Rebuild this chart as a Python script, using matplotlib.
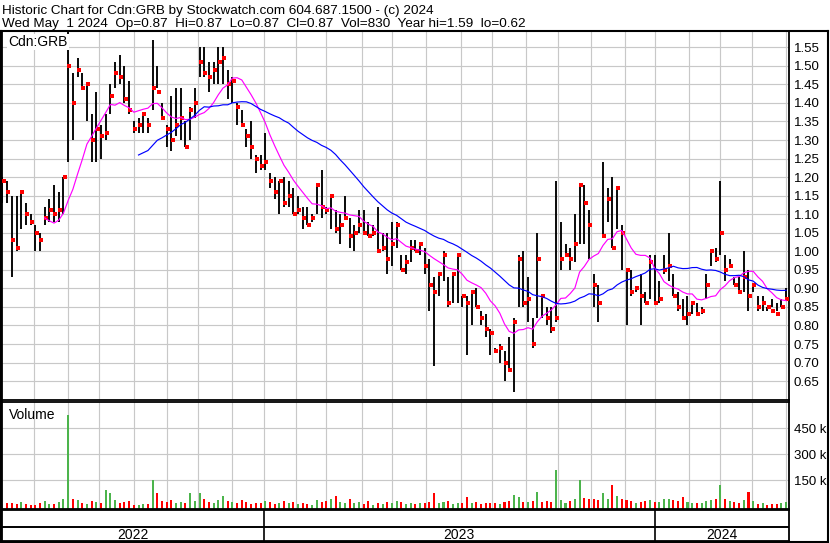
import numpy as np
import pandas as pd
import matplotlib
matplotlib.use("Agg")
import matplotlib.pyplot as plt

plt.rcParams['font.family'] = ['Liberation Sans', 'DejaVu Sans']

# ---------------- text ----------------
title_line = "Historic Chart for Cdn:GRB by Stockwatch.com 604.687.1500 - (c) 2024"
info_line = "Wed May  1 2024  Op=0.87  Hi=0.87  Lo=0.87  Cl=0.87  Vol=830  Year hi=1.59  lo=0.62"
symbol = "Cdn:GRB"
volume_title = "Volume"

# ---------------- calendar ----------------
end_date = "2024-05-01"
n_days = 502          # trading days shown
bar_step = 3          # one bar per 3 trading days
holidays = ["2022-05-23", "2022-07-01", "2022-08-01", "2022-09-05", "2022-10-10",
            "2022-12-26", "2022-12-27", "2023-01-02", "2023-02-20", "2023-04-07",
            "2023-05-22", "2023-07-03", "2023-08-07", "2023-09-04", "2023-10-09",
            "2023-12-25", "2023-12-26", "2024-01-01", "2024-02-19", "2024-03-29"]

# ---------------- data ----------------
high = [1.20, 1.19, 1.15, 1.15, 1.16, 1.13, 1.10, 1.07, 1.05, 1.12,
        1.14, 1.18, 1.16, 1.20, 1.59, 1.48, 1.52, 1.48, 1.45, 1.37,
        1.43, 1.34, 1.37, 1.45, 1.51, 1.53, 1.50, 1.46, 1.35, 1.36,
        1.37, 1.36, 1.57, 1.50, 1.40, 1.34, 1.42, 1.44, 1.44, 1.35,
        1.39, 1.44, 1.55, 1.55, 1.51, 1.51, 1.55, 1.55, 1.49, 1.47,
        1.40, 1.38, 1.33, 1.35, 1.26, 1.26, 1.32, 1.21, 1.20, 1.19,
        1.20, 1.19, 1.17, 1.15, 1.12, 1.12, 1.10, 1.18, 1.22, 1.12,
        1.15, 1.11, 1.10, 1.15, 1.09, 1.07, 1.11, 1.11, 1.08, 1.07,
        1.12, 1.05, 1.05, 1.08, 1.08, 0.99, 0.99, 1.03, 1.03, 1.02,
        1.01, 0.98, 0.93, 0.94, 1.00, 0.93, 0.94, 0.99, 0.88, 0.88,
        0.89, 0.90, 0.84, 0.83, 0.79, 0.74, 0.75, 0.73, 0.77, 0.82,
        0.99, 1.00, 0.93, 0.82, 1.05, 0.88, 0.85, 0.85, 1.19, 1.08,
        1.02, 1.01, 1.10, 1.18, 1.18, 1.11, 0.94, 0.91, 1.24, 1.17,
        1.20, 1.17, 1.07, 0.95, 0.95, 0.90, 0.94, 0.89, 0.99, 0.99,
        0.92, 0.99, 1.05, 0.94, 0.89, 0.87, 0.88, 0.86, 0.86, 0.85,
        0.94, 1.00, 1.01, 1.19, 0.99, 0.98, 0.93, 0.93, 1.00, 0.95,
        0.91, 0.88, 0.88, 0.85, 0.87, 0.86, 0.87, 0.90]

low = [1.13, 1.13, 0.93, 1.00, 1.06, 1.07, 1.07, 1.00, 1.00, 1.07,
       1.08, 1.08, 1.08, 1.10, 1.24, 1.30, 1.47, 1.44, 1.35, 1.24,
       1.24, 1.25, 1.30, 1.37, 1.44, 1.45, 1.40, 1.37, 1.32, 1.32,
       1.32, 1.32, 1.38, 1.44, 1.36, 1.28, 1.27, 1.31, 1.30, 1.28,
       1.30, 1.36, 1.47, 1.47, 1.43, 1.45, 1.45, 1.45, 1.41, 1.40,
       1.34, 1.34, 1.28, 1.25, 1.21, 1.22, 1.22, 1.17, 1.14, 1.10,
       1.12, 1.12, 1.10, 1.10, 1.06, 1.07, 1.08, 1.10, 1.09, 1.10,
       1.06, 1.05, 1.02, 1.09, 1.01, 1.00, 1.05, 1.05, 1.04, 1.04,
       1.00, 1.00, 0.94, 0.96, 1.01, 0.95, 0.94, 0.97, 1.00, 0.99,
       0.94, 0.84, 0.69, 0.88, 0.92, 0.85, 0.86, 0.86, 0.85, 0.72,
       0.80, 0.85, 0.80, 0.77, 0.72, 0.73, 0.70, 0.65, 0.68, 0.62,
       0.85, 0.85, 0.81, 0.74, 0.82, 0.82, 0.80, 0.78, 0.81, 0.95,
       0.99, 0.95, 0.97, 1.02, 1.02, 0.98, 0.85, 0.81, 1.04, 1.08,
       1.01, 1.06, 0.95, 0.80, 0.88, 0.89, 0.80, 0.86, 0.87, 0.86,
       0.86, 0.94, 0.92, 0.88, 0.84, 0.82, 0.80, 0.83, 0.83, 0.83,
       0.87, 0.96, 0.97, 0.99, 0.92, 0.96, 0.91, 0.89, 0.89, 0.84,
       0.89, 0.84, 0.84, 0.84, 0.85, 0.84, 0.85, 0.87]

close = [1.19, 1.16, 1.03, 1.01, 1.16, 1.10, 1.08, 1.05, 1.03, 1.09,
         1.11, 1.10, 1.11, 1.20, 1.50, 1.40, 1.49, 1.44, 1.45, 1.30,
         1.33, 1.31, 1.32, 1.42, 1.48, 1.47, 1.41, 1.38, 1.33, 1.34,
         1.37, 1.34, 1.44, 1.43, 1.36, 1.33, 1.30, 1.34, 1.36, 1.28,
         1.38, 1.40, 1.51, 1.48, 1.47, 1.49, 1.51, 1.52, 1.45, 1.46,
         1.39, 1.34, 1.31, 1.28, 1.25, 1.23, 1.24, 1.19, 1.16, 1.19,
         1.13, 1.15, 1.10, 1.11, 1.09, 1.07, 1.09, 1.18, 1.12, 1.11,
         1.15, 1.06, 1.07, 1.09, 1.04, 1.05, 1.07, 1.05, 1.04, 1.05,
         1.00, 1.01, 0.98, 1.02, 1.07, 0.95, 0.97, 1.01, 1.00, 1.02,
         0.96, 0.91, 0.89, 0.94, 0.99, 0.86, 0.94, 0.99, 0.88, 0.86,
         0.89, 0.85, 0.82, 0.79, 0.78, 0.73, 0.74, 0.70, 0.68, 0.81,
         0.98, 0.86, 0.87, 0.75, 0.98, 0.88, 0.82, 0.79, 0.82, 0.98,
         0.99, 0.98, 1.02, 1.18, 1.13, 1.07, 0.91, 0.86, 1.04, 1.14,
         1.01, 1.17, 1.05, 0.95, 0.89, 0.90, 0.88, 0.86, 0.97, 0.86,
         0.87, 0.95, 0.96, 0.88, 0.85, 0.82, 0.83, 0.86, 0.83, 0.84,
         0.91, 1.00, 0.98, 1.05, 0.95, 0.96, 0.91, 0.89, 0.93, 0.88,
         0.91, 0.85, 0.86, 0.85, 0.84, 0.83, 0.85, 0.87]

volume_k = [12, 18, 22, 15, 25, 14, 10, 8, 20, 30,
            12, 15, 28, 40, 525, 45, 38, 20, 15, 30,
            25, 18, 94, 75, 35, 20, 25, 30, 8, 10,
            12, 15, 150, 75, 30, 25, 35, 20, 28, 18,
            75, 30, 75, 40, 25, 20, 35, 60, 30, 25,
            20, 35, 28, 15, 22, 18, 30, 25, 15, 20,
            30, 18, 25, 12, 20, 15, 10, 35, 28, 30,
            45, 60, 25, 20, 40, 22, 25, 15, 30, 10,
            20, 15, 25, 18, 30, 25, 15, 20, 12, 18,
            22, 28, 75, 20, 25, 30, 15, 22, 18, 56,
            20, 25, 15, 22, 20, 18, 12, 25, 30, 65,
            55, 28, 25, 30, 85, 25, 30, 28, 210, 35,
            20, 30, 45, 155, 50, 40, 45, 35, 75, 40,
            123, 60, 40, 35, 30, 22, 28, 30, 35, 25,
            25, 40, 45, 35, 30, 56, 25, 20, 22, 18,
            30, 35, 40, 123, 45, 30, 25, 20, 35, 85,
            30, 15, 18, 10, 12, 15, 20, 25]

price_ticks = [0.65, 0.70, 0.75, 0.80, 0.85, 0.90, 0.95, 1.00, 1.05, 1.10,
               1.15, 1.20, 1.25, 1.30, 1.35, 1.40, 1.45, 1.50, 1.55]
volume_ticks_k = [150, 300, 450]

ma_short = 10   # samples (30 trading days)
ma_long = 30    # samples (90 trading days)

# ---------------- derived ----------------
cbd = pd.offsets.CustomBusinessDay(holidays=holidays)
dates = pd.date_range(end=end_date, periods=n_days, freq=cbd)
day_idx = np.arange(n_days)
xs = day_idx[::bar_step][:len(close)]

months = dates.to_period("M")
month_starts = [i for i in range(1, n_days) if months[i] != months[i - 1]]
years_p = dates.year
year_starts = [i for i in range(1, n_days) if years_p[i] != years_p[i - 1]]
year_names = sorted(set(str(y) for y in years_p))

cs = pd.Series(close)
ma1 = cs.rolling(ma_short).mean()
ma2 = cs.rolling(ma_long).mean()

chg = cs.diff().fillna(0).values
vcolors = ['#4cb44c' if c > 1e-9 else ('#ff0000' if c < -1e-9 else '#a8a8a8') for c in chg]

# ---------------- layout ----------------
W, H = 830, 543
fig = plt.figure(figsize=(W / 100, H / 100), dpi=100)
fig.patch.set_facecolor('white')

def rect(x0, y0, x1, y1):
    return [x0 / W, 1 - y1 / H, (x1 - x0) / W, (y1 - y0) / H]

GRID = '#c8c8c8'
xlim = (-0.3, 502.9)

ax = fig.add_axes(rect(2, 31, 789, 400))
axv = fig.add_axes(rect(2, 402, 789, 509))
axy = fig.add_axes(rect(2, 510, 789, 541))

# price panel
ax.set_xlim(*xlim)
ax.set_ylim(0.599, 1.594)
for p in price_ticks:
    ax.axhline(p, color=GRID, lw=0.85, zorder=0)
for m in month_starts:
    ax.axvline(m, color=GRID, lw=0.85, zorder=0)
ax.vlines(xs, low, high, color='black', lw=1.35, zorder=2)
ax.plot(xs + 0.8, close, linestyle='none', marker='s', ms=2.3, mew=0,
        color='#ff0000', zorder=3)
ax.plot(xs, ma1, color='#ff00ff', lw=0.85, zorder=4)
ax.plot(xs, ma2, color='#0000ff', lw=0.85, zorder=4)
ax.set_xticks([])
ax.set_yticks(price_ticks)
ax.set_yticklabels([f"{p:.2f}" for p in price_ticks])
ax.yaxis.tick_right()
ax.tick_params(axis='y', length=0, pad=3.5, labelsize=9.5)
ax.text(6 / 787, 1 - 4 / 369, symbol, fontsize=10, ha='left', va='top',
        transform=ax.transAxes, zorder=6,
        bbox=dict(facecolor='white', edgecolor='none', pad=1.0))

# volume panel
vfloor = -15
axv.set_xlim(*xlim)
axv.set_ylim(vfloor, 602)
for v in volume_ticks_k:
    axv.axhline(v, color=GRID, lw=0.85, zorder=0)
for m in month_starts:
    axv.axvline(m, color=GRID, lw=0.85, zorder=0)
vol = np.array(volume_k, dtype=float)
axv.bar(xs, vol - vfloor, bottom=vfloor, width=1.3, color=vcolors, linewidth=0, zorder=2)
axv.set_xticks([])
axv.set_yticks(volume_ticks_k)
axv.set_yticklabels([f"{v} k" for v in volume_ticks_k])
axv.yaxis.tick_right()
axv.tick_params(axis='y', length=0, pad=3.5, labelsize=9.5)
axv.text(7 / 787, 0.84, volume_title, fontsize=10, ha='left', va='baseline',
         transform=axv.transAxes)

# year band
axy.set_xlim(*xlim)
axy.set_ylim(0, 1)
axy.set_xticks([])
axy.set_yticks([])
axy.axhline(0.45, color='black', lw=1.4)
for ys in year_starts:
    axy.axvline(ys, color='black', lw=1.2)
bounds = [xlim[0]] + year_starts + [xlim[1]]
for k, name in enumerate(year_names):
    axy.text((bounds[k] + bounds[k + 1]) / 2, 0.06, name, ha='center', va='baseline',
             fontsize=10)

for a in (ax, axv, axy):
    for s in a.spines.values():
        s.set_linewidth(1.3)
        s.set_color('black')

# header
fig.text(2 / W, 1 - 14 / H, title_line, fontsize=9.7, ha='left', va='baseline')
fig.text(2 / W, 1 - 27.5 / H, info_line, fontsize=9.7, ha='left', va='baseline')

# outer frame
frame = fig.add_axes([0, 0, 1, 1], zorder=10)
frame.set_xlim(0, W)
frame.set_ylim(H, 0)
frame.axis('off')
frame.patch.set_alpha(0)
frame.plot([0, W - 2], [30.5, 30.5], color='black', lw=1.5)
frame.plot([W - 2.5, W - 2.5], [30.5, 541.8], color='black', lw=1.5)
frame.plot([0, W - 2], [541.8, 541.8], color='black', lw=1.5)
frame.plot([0.8, 0.8], [30.5, 541.8], color='black', lw=1.5)

fig.savefig("out.png", dpi=100, facecolor='white')
